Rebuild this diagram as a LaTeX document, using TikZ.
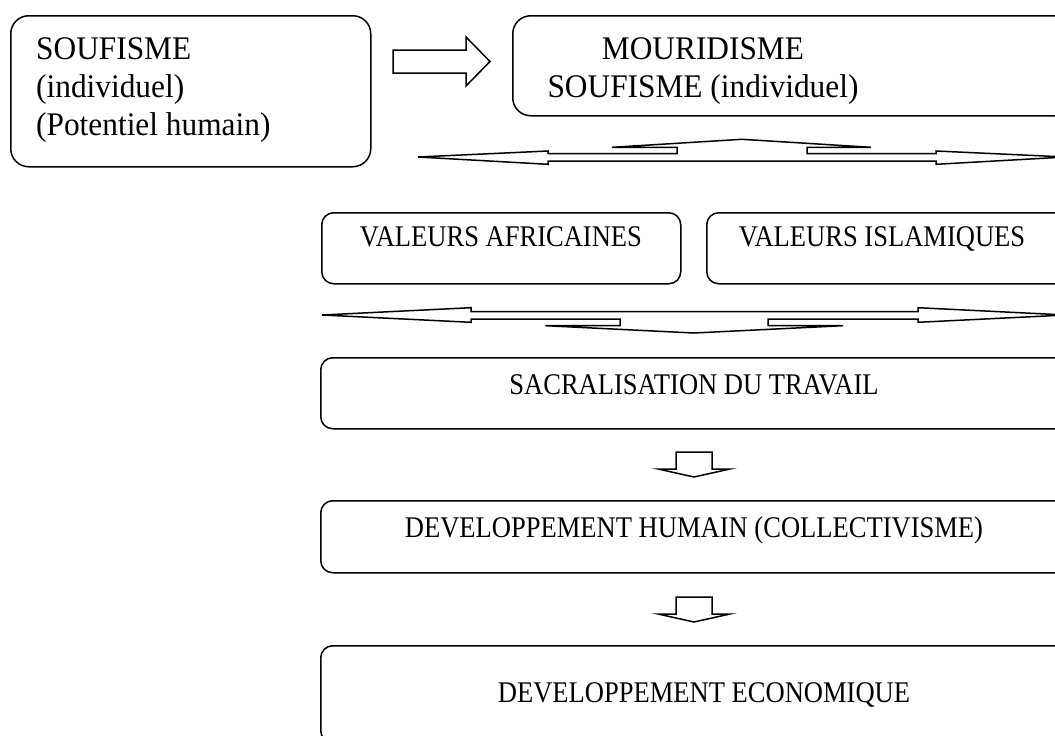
\documentclass[tikz,border=0pt]{standalone}
\usepackage{fontspec}
\setmainfont{Liberation Serif}
\newfontfamily\bigfont[FakeStretch=0.95]{Liberation Serif}
\newfontfamily\smallfont[FakeStretch=0.885]{Liberation Serif}
\usetikzlibrary{positioning,calc}

\begin{document}
\begin{tikzpicture}[x=1pt, y=-1pt,
  box/.style={draw, line width=1.5pt, rounded corners=12pt, inner sep=0pt},
  bigbox/.style={box, rounded corners=18pt},
  bigtxt/.style={font=\bigfont\fontsize{33}{38}\selectfont, inner sep=0pt},
  smalltxt/.style={font=\smallfont\fontsize{30}{34}\selectfont, inner sep=0pt},
  blk/.style={draw, line width=1.5pt, fill=white, line join=miter}
]
  \useasboundingbox (0,0) rectangle (1055,736);
  \clip (0,0) rectangle (1055,736);

  % Top row: soufisme -> mouridisme
  \node[bigbox, minimum width=360pt, minimum height=151pt, anchor=north west] (soufi) at (10,15) {};
  \node[bigtxt, align=left, anchor=north west] (soufiT) at (36,37)
    {SOUFISME\\(individuel)\\(Potentiel humain)};
  \node[bigbox, minimum width=560pt, minimum height=100pt, anchor=north west] (mouri) at (512,15) {};
  \node[bigtxt, align=center, anchor=north] (mouriT) at (703,37)
    {MOURIDISME\\SOUFISME (individuel)};
  \draw[blk] (393,50) -- (466,50) -- (466,37) -- (490,61.5) -- (466,86) -- (466,73) -- (393,73) -- cycle;

  % Split arrow, bump up
  \draw[blk] (418,157) -- (548,151) -- (548,153.7) -- (677,153.7) -- (677,147.3) -- (612,147.3)
    -- (742,139.3) -- (871,147.3) -- (807,147.3) -- (807,153.7) -- (936,153.7) -- (936,151)
    -- (1066,157) -- (936,164.3) -- (936,161) -- (548,161) -- (548,164.3) -- cycle;

  % Values
  \node[box, minimum width=359pt, minimum height=71pt, anchor=north west] (valAf) at (321,212) {};
  \node[smalltxt, anchor=north] (valAfT) at (501,226) {VALEURS AFRICAINES};
  \node[box, minimum width=400pt, minimum height=71pt, anchor=north west] (valIs) at (706,212) {};
  \node[smalltxt, anchor=north] (valIsT) at (882,226) {VALEURS ISLAMIQUES};

  % Split arrow, bump down
  \draw[blk] (322,315) -- (471,307.7) -- (471,311.7) -- (918,311.7) -- (918,307.7) -- (1066,315)
    -- (918,322.3) -- (918,319) -- (768,319) -- (768,325.7) -- (843,325.7) -- (694,333)
    -- (545.5,325.7) -- (620,325.7) -- (620,319) -- (471,319) -- (471,322.3) -- cycle;

  % Chain
  \node[box, minimum width=750pt, minimum height=71pt, anchor=north west] (sacra) at (320,357) {};
  \node[smalltxt, anchor=north] (sacraT) at (694,374) {SACRALISATION DU TRAVAIL};
  \node[box, minimum width=750pt, minimum height=72pt, anchor=north west] (devHum) at (320,500) {};
  \node[smalltxt, anchor=north] (devHumT) at (694,516) {DEVELOPPEMENT HUMAIN (COLLECTIVISME)};
  \node[box, minimum width=750pt, minimum height=97pt, anchor=north west] (devEco) at (320,645) {};
  \node[smalltxt, anchor=north] (devEcoT) at (704,682) {DEVELOPPEMENT ECONOMIQUE};

  \foreach \y in {452,597}
    \draw[blk] (676,\y) -- (712,\y) -- (712,\y+17) -- (730,\y+17) -- (694,\y+25)
      -- (658,\y+17) -- (676,\y+17) -- cycle;
\end{tikzpicture}
\end{document}
